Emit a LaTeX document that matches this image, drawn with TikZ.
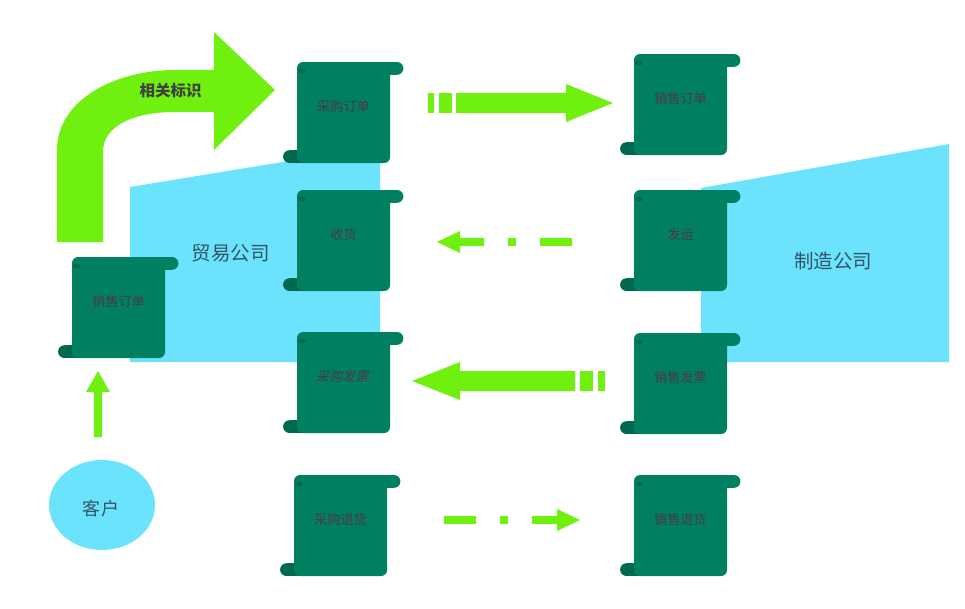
\documentclass[tikz,border=0pt]{standalone}
\usepackage{fontspec}
\usetikzlibrary{shapes.geometric}
\setmainfont{Noto Sans CJK SC}
\definecolor{scrollbody}{HTML}{008060}
\definecolor{scrolltab}{HTML}{006A50}
\definecolor{arrowgreen}{HTML}{70F00F}
\definecolor{paleblue}{HTML}{6CE3FD}
\definecolor{scrolltext}{HTML}{4A3A48}
\definecolor{labeltext}{HTML}{2F5566}
\tikzset{
  region/.style={fill=paleblue,draw=none},
  blockarrow/.style={fill=arrowgreen,draw=none},
  scrolllabel/.style={text=scrolltext,font=\fontsize{13.2}{15}\selectfont,inner sep=0pt},
  biglabel/.style={text=labeltext,font=\fontsize{19.5}{22}\selectfont,inner sep=0pt},
  slanted/.style={xslant=0.3},
}
% #1 name, #2 left of body, #3 top of body, #4 text, #5 label options
\newcommand{\scrollbox}[5]{%
  \begin{scope}[shift={(#2,#3)}]
    \fill[scrolltab] (-7.5,94.6) circle[radius=6.4];
    \fill[scrolltab] (-7.5,88.2) rectangle (6,101);
    \fill[scrollbody,rounded corners=6] (0,0) rectangle (93,101);
    \fill[scrollbody] (80,0) rectangle (100,12.8);
    \fill[scrollbody] (100,6.4) circle[radius=6.4];
    \fill[scrolltab] (5,9) ellipse[x radius=4,y radius=2.5];
    \node[scrolllabel,#5] (#1) at (46.5,44) {#4};
  \end{scope}}
\begin{document}
\begin{tikzpicture}[x=1pt,y=-1pt]
\useasboundingbox (0,0) rectangle (965,608);
\fill[white] (0,0) rectangle (965,608);
% regions
\fill[region] (130,187) -- (380,146) -- (380,362) -- (130,362) -- cycle;
\fill[region] (701,188) -- (949,144) -- (949,362) -- (701,362) -- cycle;
\node[biglabel] (trade) at (230.5,253) {贸易公司};
\node[biglabel] (maker) at (833,261) {制造公司};
% bent arrow
\fill[blockarrow] (57,242) -- (57,150) .. controls (57,100) and (115,70) .. (175,70) -- (214,70) -- (214,32) -- (275,90) -- (214,150) -- (214,112) -- (175,112) .. controls (135,112) and (103,125) .. (103,152) -- (103,242) -- cycle;
\node[text=black!75,font=\fontsize{15.5}{18}\selectfont\bfseries,inner sep=0pt] (tag) at (170.5,91) {相关标识};
% scrolls
\scrollbox{po}{297}{62}{采购订单}{}
\scrollbox{rcv}{297}{190}{收货}{}
\scrollbox{pi}{297}{332}{采购发票}{slanted}
\scrollbox{pr}{294}{475}{采购退货}{}
\scrollbox{so}{634}{54}{销售订单}{}
\scrollbox{ship}{634}{190}{发运}{}
\scrollbox{si}{634}{333}{销售发票}{}
\scrollbox{sr}{634}{475}{销售退货}{}
\scrollbox{cso}{72}{257}{销售订单}{}
% customer
\node[fill=paleblue,draw=none,ellipse,minimum width=106pt,minimum height=90pt,inner sep=0pt] (cust) at (102,505) {};
\node[text=labeltext,font=\fontsize{18}{20}\selectfont,inner sep=0pt] (custlabel) at (101,509) {客\hspace{2pt}户};
% arrow customer to order
\fill[blockarrow] (94,437) -- (94,392) -- (86,392) -- (98,371) -- (110,392) -- (102,392) -- (102,437) -- cycle;
% arrow 1
\fill[blockarrow] (428,93) rectangle (434,113);
\fill[blockarrow] (439,93) rectangle (452,113);
\fill[blockarrow] (456,93) -- (566,93) -- (566,84) -- (613,103) -- (566,122) -- (566,113) -- (456,113) -- cycle;
% arrow 2
\fill[blockarrow] (437,242) -- (460,231) -- (460,238) -- (484,238) -- (484,246) -- (460,246) -- (460,253) -- cycle;
\fill[blockarrow] (508,238) rectangle (516,246);
\fill[blockarrow] (540,238) rectangle (572,246);
% arrow 3
\fill[blockarrow] (412,381) -- (460,362) -- (460,371) -- (575,371) -- (575,391) -- (460,391) -- (460,400) -- cycle;
\fill[blockarrow] (580,371) rectangle (593,391);
\fill[blockarrow] (598,371) rectangle (605,391);
% arrow 4
\fill[blockarrow] (444,516) rectangle (476,524);
\fill[blockarrow] (500,516) rectangle (508,524);
\fill[blockarrow] (532,516) -- (557,516) -- (557,509) -- (580,520) -- (557,531) -- (557,524) -- (532,524) -- cycle;
\end{tikzpicture}
\end{document}
